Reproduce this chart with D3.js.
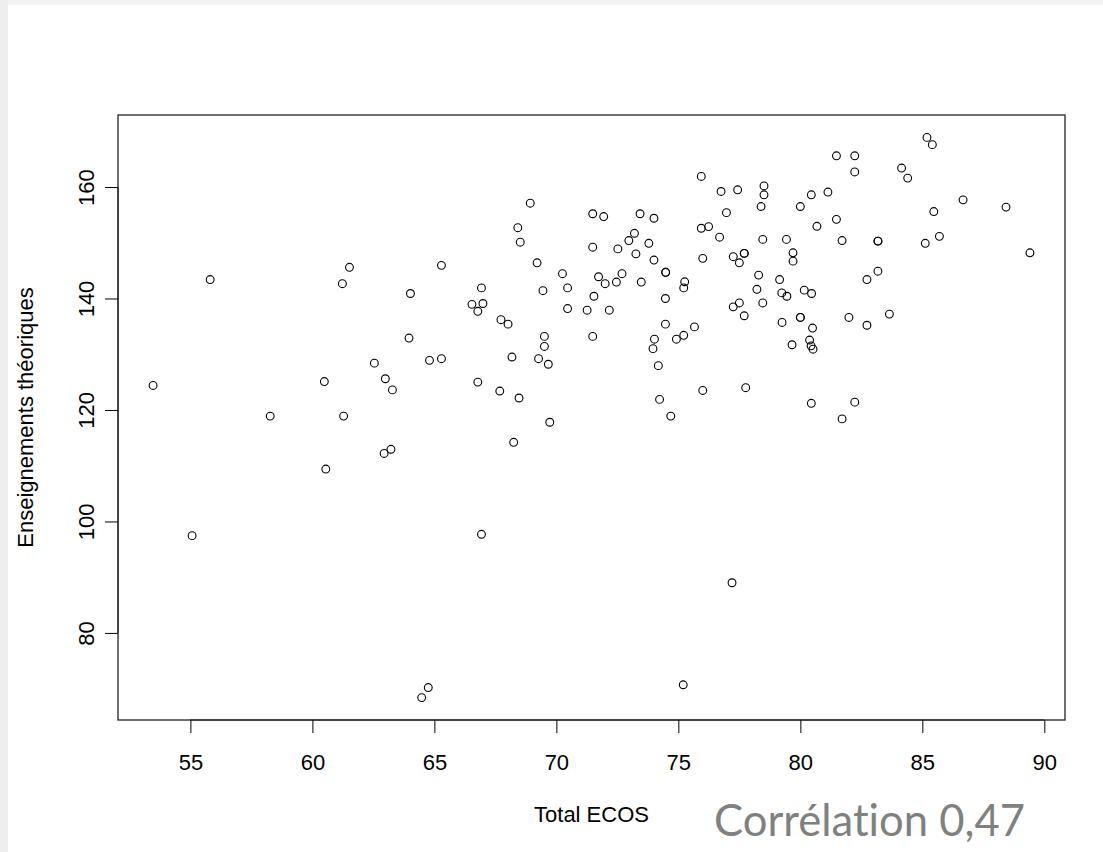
<!DOCTYPE html>
<html>
<head>
<meta charset="utf-8">
<script src="https://cdn.jsdelivr.net/npm/d3@7"></script>
<style>
  html, body { margin: 0; padding: 0; background: #ffffff; }
  svg { display: block; }
  .note { font-variant-ligatures: none; font-feature-settings: "liga" 0, "clig" 0; }
</style>
</head>
<body>
<svg id="chart" width="1103" height="852"></svg>
<script>
// Data: Total ECOS (x) vs Enseignements théoriques (y)
const totalEcos = [
  53.47, 55.07, 55.81, 58.27, 60.49, 60.55, 61.23, 61.28, 61.52, 62.54,
  62.94, 62.99, 63.22, 63.28, 63.96, 64.02, 64.48, 64.75, 64.80, 65.29,
  65.29, 66.54, 66.78, 66.78, 66.93, 66.99, 66.93, 67.73, 67.68, 68.02,
  68.18, 68.25, 68.42, 68.52, 68.47, 68.93, 69.21, 69.27, 69.45, 69.51,
  69.51, 69.67, 69.73, 70.25, 70.46, 70.46, 71.26, 71.49, 71.49, 71.49,
  71.54, 71.73, 71.94, 72.00, 72.17, 72.52, 72.46, 72.69, 72.97, 73.20,
  73.26, 73.43, 73.48, 73.79, 74.00, 74.00, 74.02, 73.96, 74.18, 74.23,
  74.48, 74.48, 74.47, 74.47, 74.69, 74.92, 75.22, 75.20, 75.26, 75.22,
  75.66, 75.94, 75.94, 76.00, 76.00, 76.24, 76.69, 76.75, 76.97, 77.25,
  77.25, 77.20, 77.43, 77.50, 77.50, 77.70, 77.70, 77.70, 77.76, 78.22,
  78.29, 78.39, 78.51, 78.51, 78.46, 78.46, 79.15, 79.24, 79.25, 79.43,
  79.45, 79.70, 79.70, 79.66, 80.00, 80.00, 80.00, 80.16, 80.38, 80.44,
  80.45, 80.45, 80.46, 80.50, 80.52, 80.68, 81.13, 81.48, 81.48, 81.71,
  81.71, 81.99, 82.23, 82.23, 82.23, 82.73, 82.73, 83.18, 83.18, 83.18,
  83.65, 84.15, 84.40, 85.12, 85.19, 85.41, 85.47, 85.70, 86.67, 88.43,
  89.41
];
const enseignementsTheoriques = [
  124.4,  97.45, 143.4, 118.9, 125.1, 109.4, 142.65, 118.9, 145.6, 128.4,
  112.2, 125.6, 112.95, 123.6, 132.9, 140.9,  68.4,  70.2, 128.9, 129.2,
  145.95, 138.95, 137.7, 125.0, 141.9, 139.1,  97.7, 136.2, 123.4, 135.4,
  129.5, 114.2, 152.7, 150.1, 122.15, 157.1, 146.4, 129.2, 141.4, 133.2,
  131.4, 128.2, 117.8, 144.45, 141.9, 138.2, 137.9, 155.2, 149.2, 133.2,
  140.4, 143.9, 154.7, 142.65, 137.9, 148.9, 142.95, 144.45, 150.4, 151.7,
  148.0, 155.2, 142.95, 149.9, 154.4, 146.9, 132.7, 131.0, 127.95, 121.9,
  144.7, 144.7, 140.0, 135.4, 118.9, 132.7, 133.4,  70.7, 143.0, 141.9,
  134.9, 161.9, 152.6, 147.2, 123.5, 152.9, 151.0, 159.2, 155.4, 147.5,
  138.5,  89.0, 159.5, 146.4, 139.2, 148.1, 148.1, 136.9, 124.0, 141.65,
  144.2, 156.5, 160.2, 158.6, 150.6, 139.2, 143.4, 141.0, 135.7, 150.6,
  140.4, 148.2, 146.7, 131.7, 156.5, 136.6, 136.6, 141.5, 132.55, 131.5,
  158.6, 121.2, 140.9, 134.7, 130.9, 152.95, 159.1, 165.6, 154.2, 150.4,
  118.4, 136.6, 165.6, 162.7, 121.4, 143.4, 135.2, 150.3, 150.3, 144.9,
  137.2, 163.4, 161.6, 149.9, 168.9, 167.6, 155.6, 151.15, 157.7, 156.4,
  148.2
];
const xTicks = [55, 60, 65, 70, 75, 80, 85, 90];
const yTicks = [80, 100, 120, 140, 160];
const xLabel = "Total ECOS";
const yLabel = "Enseignements théoriques";
const noteText = "Corrélation 0,47";

const points = totalEcos.map((x, i) => ({ x, y: enseignementsTheoriques[i] }));

const svg = d3.select("#chart");
const W = 1103, H = 852;
const plot = { left: 118, right: 1065, top: 115, bottom: 720 };

// Slide-like background frame
svg.append("rect").attr("x", 0).attr("y", 0).attr("width", W).attr("height", H).attr("fill", "#ffffff");
svg.append("rect").attr("x", 0).attr("y", 0).attr("width", W).attr("height", 5).attr("fill", "#f2f2f2");
svg.append("rect").attr("x", 0).attr("y", 0).attr("width", 8).attr("height", H).attr("fill", "#eeeeee");

// R-style 4% extended ranges
function rRange(vals) {
  const [a, b] = d3.extent(vals);
  const d = (b - a) * 0.04;
  return [a - d, b + d];
}
const x = d3.scaleLinear().domain(rRange(totalEcos)).range([plot.left, plot.right]);
const y = d3.scaleLinear().domain(rRange(enseignementsTheoriques)).range([plot.bottom, plot.top]);

const font = "'Liberation Sans', Arial, sans-serif";
const fs = 22;

// X axis
const xAxis = svg.append("g")
  .attr("transform", `translate(0,${plot.bottom})`)
  .call(d3.axisBottom(x).tickValues(xTicks).tickSize(13).tickPadding(21).tickFormat(d3.format("d")));
xAxis.select(".domain").attr("stroke", "#000").attr("d", `M${x(xTicks[0])},0H${x(xTicks[xTicks.length-1])}`);
xAxis.selectAll(".tick line").attr("stroke", "#000");
xAxis.selectAll(".tick text").attr("font-family", font).attr("font-size", fs).attr("fill", "#000");

// Y axis
const yAxis = svg.append("g")
  .attr("transform", `translate(${plot.left},0)`)
  .call(d3.axisLeft(y).tickValues(yTicks).tickSize(13).tickFormat(d3.format("d")));
yAxis.select(".domain").attr("stroke", "#000").attr("d", `M0,${y(yTicks[0])}V${y(yTicks[yTicks.length-1])}`);
yAxis.selectAll(".tick line").attr("stroke", "#000");
yAxis.selectAll(".tick text")
  .attr("font-family", font).attr("font-size", fs).attr("fill", "#000")
  .attr("x", null)
  .attr("text-anchor", "middle")
  .attr("transform", "translate(-32,0) rotate(-90)")
  .attr("dy", "0.35em");

// Box
svg.append("rect")
  .attr("x", plot.left).attr("y", plot.top)
  .attr("width", plot.right - plot.left).attr("height", plot.bottom - plot.top)
  .attr("fill", "none").attr("stroke", "#222").attr("stroke-width", 1.3);

// Points
svg.append("g").selectAll("circle").data(points).join("circle")
  .attr("cx", d => x(d.x)).attr("cy", d => y(d.y))
  .attr("r", 3.9)
  .attr("fill", "none").attr("stroke", "#000").attr("stroke-width", 1.1);

// Axis titles
svg.append("text")
  .attr("x", (plot.left + plot.right) / 2).attr("y", 822)
  .attr("text-anchor", "middle").attr("font-family", font).attr("font-size", fs)
  .attr("fill", "#000")
  .text(xLabel);
svg.append("text")
  .attr("transform", `translate(33,${(plot.top + plot.bottom) / 2}) rotate(-90)`)
  .attr("text-anchor", "middle").attr("font-family", font).attr("font-size", fs)
  .attr("fill", "#000")
  .text(yLabel);

// Annotation
svg.append("text")
  .attr("class", "note")
  .attr("x", 714).attr("y", 836)
  .attr("font-family", "Lato, 'Open Sans', sans-serif").attr("font-size", 45)
  .attr("textLength", 311).attr("lengthAdjust", "spacingAndGlyphs")
  .attr("fill", "#808080")
  .text(noteText);
</script>
</body>
</html>
